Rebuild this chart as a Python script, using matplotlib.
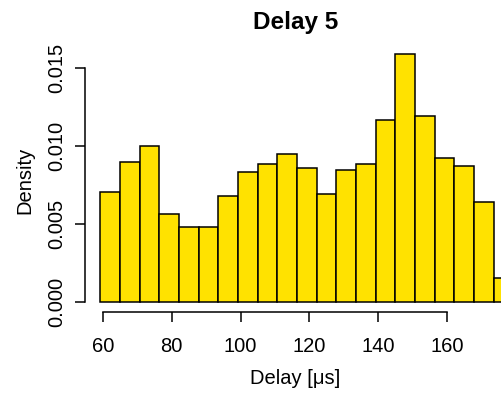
import numpy as np
import matplotlib
matplotlib.use("Agg")
import matplotlib.pyplot as plt

## Histogram (density per bin)
density = [0.00705, 0.00897, 0.0100, 0.00566, 0.00485, 0.00485, 0.00681,
           0.00833, 0.00885, 0.00949, 0.00861, 0.00694, 0.00848, 0.00885,
           0.01169, 0.0159, 0.01192, 0.00925, 0.00872, 0.00641, 0.00154]
bin_start = 59.22
bin_width = 5.718
x_ticks = [60, 80, 100, 120, 140, 160]
y_ticks = [0.000, 0.005, 0.010, 0.015]
y_labels = ["0.000", "0.005", "0.010", "0.015"]

plt.rcParams['font.family'] = ['Liberation Sans', 'DejaVu Sans']

W, H = 502, 393
fig = plt.figure(figsize=(W / 100, H / 100), dpi=100)

# axes box in pixels (left, top, right, bottom)
L, T, R, B = 85, 40, 502, 312.3
ax = fig.add_axes([L / W, 1 - B / H, (R - L) / W, (B - T) / H])

px_per_x = 3.44          # px per µs
x0_px, x0_val = 103, 60
y0_px, px_per_y = 302.3, 15600
ax.set_xlim(x0_val + (L - x0_px) / px_per_x, x0_val + (R - x0_px) / px_per_x)
ax.set_ylim((y0_px - B) / px_per_y, (y0_px - T) / px_per_y)

lefts = bin_start + bin_width * np.arange(len(density))
ax.bar(lefts, density, width=bin_width, align='edge', color='#FFE200',
       edgecolor='black', linewidth=1.1)

for s in ['top', 'right']:
    ax.spines[s].set_visible(False)
ax.spines['left'].set_bounds(0, 0.015)
ax.spines['bottom'].set_bounds(60, 160)
for s in ['left', 'bottom']:
    ax.spines[s].set_linewidth(1.1)

ax.set_xticks(x_ticks)
ax.set_yticks(y_ticks)
ax.set_yticklabels(y_labels, rotation=90, va='center')
ax.tick_params(axis='both', length=7.5, width=1.1, labelsize=14.5, direction='out')
ax.tick_params(axis='x', pad=10)
ax.tick_params(axis='y', pad=6)

fig.text(295.5 / W, 1 - 23 / H, 'Delay 5', ha='center', va='center',
         fontsize=17.5, fontweight='bold')
fig.text(295 / W, 1 - 378 / H, 'Delay [μs]', ha='center', va='center', fontsize=14.5)
fig.text(25 / W, 1 - 180 / H, 'Density', ha='center', va='center', rotation=90,
         fontsize=14.5)

fig.savefig('out.png', dpi=100)
